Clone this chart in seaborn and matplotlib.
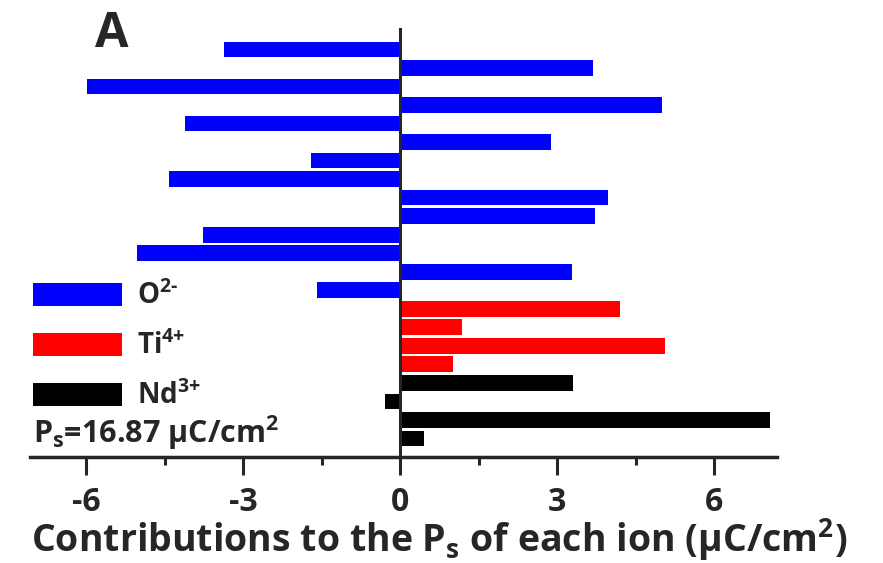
import numpy as np
import pandas as pd
import matplotlib
matplotlib.use("Agg")
import matplotlib.pyplot as plt
from matplotlib.patches import Patch
from matplotlib.ticker import MultipleLocator
import seaborn as sns

OUT_PNG = "out.png"

# bar values, top to bottom, grouped by ion
O_VALUES = [-3.37, 3.68, -5.98, 5.00, -4.10, 2.89, -1.71, -4.41, 3.98, 3.73, -3.76, -5.02, 3.28, -1.58]
TI_VALUES = [4.21, 1.19, 5.07, 1.01]
ND_VALUES = [3.31, -0.28, 7.06, 0.46]

ION_LABELS = [r"O$^{\text{2-}}$", r"Ti$^{\text{4+}}$", r"Nd$^{\text{3+}}$"]
ION_COLORS = ["#0000FF", "#FF0000", "#000000"]
X_TICKS = [-6, -3, 0, 3, 6]
PS_TEXT = "P$_{s}$=16.87 µC/cm$^{2}$"
XLABEL = "Contributions to the P$_{s}$ of each ion (µC/cm$^{2}$)"


def build_frame():
    values = O_VALUES + TI_VALUES + ND_VALUES
    ions = (["O"] * len(O_VALUES) + ["Ti"] * len(TI_VALUES) + ["Nd"] * len(ND_VALUES))
    return pd.DataFrame({
        "pos": [str(i) for i in range(len(values))],
        "value": values,
        "ion": ions,
    })


def make_plot(df):
    sns.set_style("white")
    plt.rcParams["font.family"] = ["Open Sans", "DejaVu Sans"]
    plt.rcParams["font.weight"] = "bold"
    plt.rcParams["mathtext.fontset"] = "custom"
    plt.rcParams["mathtext.rm"] = "Open Sans:bold"
    plt.rcParams["mathtext.bf"] = "Open Sans:bold"
    plt.rcParams["mathtext.it"] = "Open Sans:bold"
    plt.rcParams["mathtext.default"] = "bf"

    fig = plt.figure(figsize=(8.83, 5.63), dpi=100)
    ax = fig.add_axes([30 / 883, 1 - 457 / 563, 747 / 883, 428 / 563])

    palette = dict(zip(["O", "Ti", "Nd"], ION_COLORS))
    sns.barplot(data=df, x="value", y="pos", hue="ion", palette=palette,
                dodge=False, width=0.85, orient="h", legend=False, ax=ax,
                saturation=1, linewidth=0)

    ax.set_xlim(-7.07, 7.2)
    ax.set_ylim(len(df) - 1 + 1.0, -1.1)

    # y axis drawn as the zero line
    ax.spines["left"].set_position(("data", 0))
    ax.spines["left"].set_linewidth(2.2)
    ax.spines["bottom"].set_linewidth(2.5)
    ax.spines["top"].set_visible(False)
    ax.spines["right"].set_visible(False)
    ax.set_yticks([])
    ax.set_ylabel("")

    ax.set_xticks(X_TICKS)
    ax.set_xticklabels([str(t) for t in X_TICKS])
    ax.xaxis.set_minor_locator(MultipleLocator(1.5))
    ax.tick_params(axis="x", which="major", direction="out", length=13, width=2.2,
                   labelsize=23, pad=8, bottom=True)
    ax.tick_params(axis="x", which="minor", direction="out", length=6, width=2.2, bottom=True)
    ax.set_xlabel(XLABEL, fontsize=27, fontweight="bold", labelpad=-2)
    ax.xaxis.label.set_x((439 - 30) / 747)

    handles = [Patch(facecolor=c, edgecolor="none", label=l) for c, l in zip(ION_COLORS, ION_LABELS)]
    ax.legend(handles=handles, loc="upper left", bbox_to_anchor=(33 / 883, 1 - 281 / 563),
              bbox_transform=fig.transFigure, frameon=False, fontsize=20,
              handlelength=3.2, handleheight=0.9, handletextpad=0.55,
              labelspacing=0.72, borderpad=0, borderaxespad=0)

    fig.text(33 / 883, 1 - 443 / 563, PS_TEXT, fontsize=22, fontweight="bold", va="baseline")
    fig.text(95 / 883, 1 - 47 / 563, "A", fontsize=35, fontweight="bold", va="baseline")

    fig.savefig(OUT_PNG, dpi=100)


if __name__ == "__main__":
    df = build_frame()
    make_plot(df)
